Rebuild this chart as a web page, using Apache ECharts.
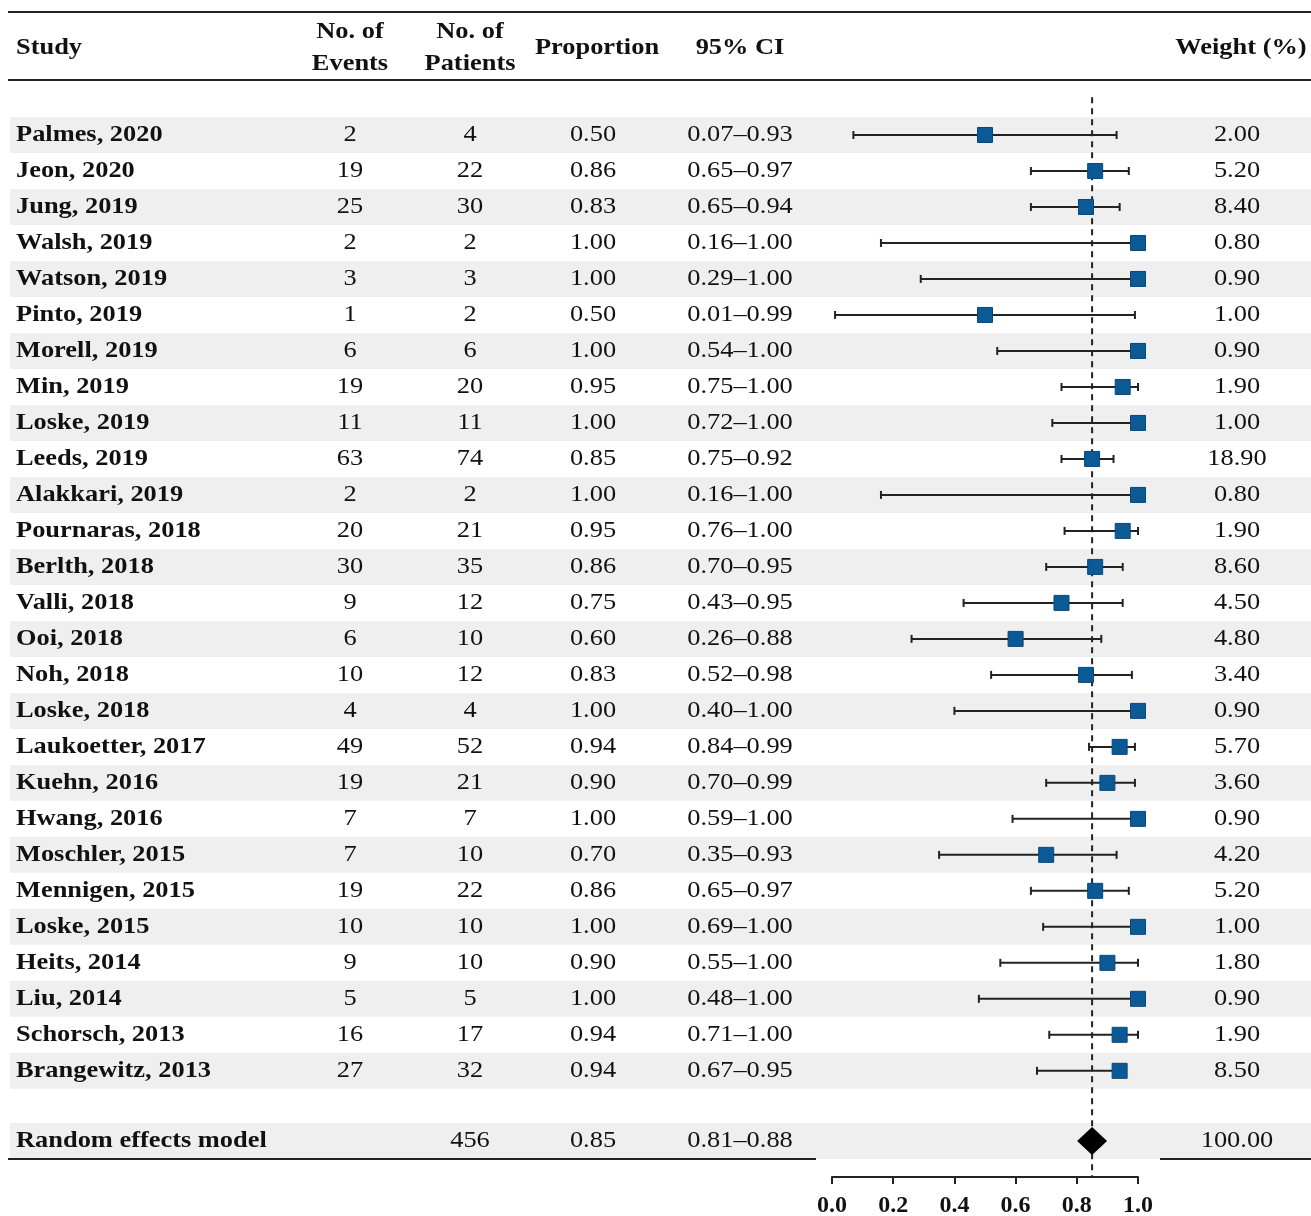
<!DOCTYPE html>
<html><head><meta charset="utf-8">
<script src="https://cdn.jsdelivr.net/npm/echarts@6/dist/echarts.min.js"></script>
<style>html,body{margin:0;padding:0;background:#fff}#main{width:1311px;height:1216px}</style>
</head><body><div id="main"></div>
<script>
const studies = ['Palmes, 2020','Jeon, 2020','Jung, 2019','Walsh, 2019','Watson, 2019','Pinto, 2019','Morell, 2019','Min, 2019','Loske, 2019','Leeds, 2019','Alakkari, 2019','Pournaras, 2018','Berlth, 2018','Valli, 2018','Ooi, 2018','Noh, 2018','Loske, 2018','Laukoetter, 2017','Kuehn, 2016','Hwang, 2016','Moschler, 2015','Mennigen, 2015','Loske, 2015','Heits, 2014','Liu, 2014','Schorsch, 2013','Brangewitz, 2013'];
const events = [2,19,25,2,3,1,6,19,11,63,2,20,30,9,6,10,4,49,19,7,7,19,10,9,5,16,27];
const patients = [4,22,30,2,3,2,6,20,11,74,2,21,35,12,10,12,4,52,21,7,10,22,10,10,5,17,32];
const proportions = [0.50,0.86,0.83,1.00,1.00,0.50,1.00,0.95,1.00,0.85,1.00,0.95,0.86,0.75,0.60,0.83,1.00,0.94,0.90,1.00,0.70,0.86,1.00,0.90,1.00,0.94,0.94];
const ciLower = [0.07,0.65,0.65,0.16,0.29,0.01,0.54,0.75,0.72,0.75,0.16,0.76,0.70,0.43,0.26,0.52,0.40,0.84,0.70,0.59,0.35,0.65,0.69,0.55,0.48,0.71,0.67];
const ciUpper = [0.93,0.97,0.94,1.00,1.00,0.99,1.00,1.00,1.00,0.92,1.00,1.00,0.95,0.95,0.88,0.98,1.00,0.99,0.99,1.00,0.93,0.97,1.00,1.00,1.00,1.00,0.95];
const weights = [2.00,5.20,8.40,0.80,0.90,1.00,0.90,1.90,1.00,18.90,0.80,1.90,8.60,4.50,4.80,3.40,0.90,5.70,3.60,0.90,4.20,5.20,1.00,1.80,0.90,1.90,8.50];
const pooledLabel = 'Random effects model';
const pooledPatients = 456;
const pooledProportion = 0.85;
const pooledLower = 0.81;
const pooledUpper = 0.88;
const pooledWeight = 100;
const xTicks = ['0.0','0.2','0.4','0.6','0.8','1.0'];

const SERIF = '"Liberation Serif","Times New Roman",serif';
const SX = 1.1;
const FS = 24;
const POOLED_ROW = 27.95;
const COL = {study:16, events:350, patients:470, prop:593, ci:740, weight:1237};
const INK = '#111';

function txt(x, y, s, bold, align) {
  return {type:'text', x:x, y:y, scaleX:SX, z2:10,
    style:{text:String(s), fill:INK, fontSize:FS, fontWeight:bold?'bold':'normal', fontFamily:SERIF,
      align:align, verticalAlign:'middle', textAlign:align, textVerticalAlign:'middle'}};
}
function ciText(lo, hi){ return lo.toFixed(2) + '\u2013' + hi.toFixed(2); }

const stripeRows = [];
studies.forEach((s,i)=>{ if(i%2===0) stripeRows.push([0,i]); });
stripeRows.push([0,POOLED_ROW]);

const tableRows = studies.map((s,i)=>[0,i]);
tableRows.push([0,POOLED_ROW]);

const chart = echarts.init(document.getElementById('main'), null, {renderer:'canvas'});
chart.setOption({
  animation:false,
  backgroundColor:'#fff',
  grid:{left:832, width:306, top:81, height:1096, containLabel:false, outerBoundsMode:'none'},
  xAxis:{type:'value', min:0, max:1, interval:0.2,
    axisLine:{show:true, onZero:false, lineStyle:{color:'#222', width:2}},
    axisTick:{show:true, length:7, lineStyle:{color:'#222', width:2}},
    axisLabel:{margin:17, color:INK, fontSize:24, fontWeight:'bold', fontFamily:SERIF,
      formatter:(v)=>xTicks[Math.round(v/0.2)]},
    splitLine:{show:false}},
  yAxis:{type:'value', inverse:true, min:-1.5, max:28.95, show:false},
  graphic:[
    {type:'line', z:100, shape:{x1:8,y1:12,x2:1311,y2:12}, style:{stroke:'#222', lineWidth:2}},
    {type:'line', z:100, shape:{x1:8,y1:80,x2:1311,y2:80}, style:{stroke:'#222', lineWidth:2}},
    {type:'line', z:100, shape:{x1:8,y1:1159,x2:816,y2:1159}, style:{stroke:'#222', lineWidth:2}},
    {type:'line', z:100, shape:{x1:1160,y1:1159,x2:1311,y2:1159}, style:{stroke:'#222', lineWidth:2}},
    Object.assign(txt(COL.study,48,'Study',true,'left'),{z:100}),
    Object.assign(txt(COL.events,32,'No. of',true,'center'),{z:100}),
    Object.assign(txt(COL.events,64,'Events',true,'center'),{z:100}),
    Object.assign(txt(COL.patients,32,'No. of',true,'center'),{z:100}),
    Object.assign(txt(COL.patients,64,'Patients',true,'center'),{z:100}),
    Object.assign(txt(597,48,'Proportion',true,'center'),{z:100}),
    Object.assign(txt(740,48,'95% CI',true,'center'),{z:100}),
    Object.assign(txt(1241,48,'Weight (%)',true,'center'),{z:100})
  ],
  series:[
    {type:'custom', name:'stripes', z:0, clip:false, silent:true, data:stripeRows,
      renderItem:(params, api)=>{
        const c = api.coord([0, api.value(1)]);
        const h = api.size([0,1])[1];
        return {type:'rect', shape:{x:10, y:c[1]-h/2, width:1301, height:h}, style:{fill:'#efefef'}};
      }},
    {type:'custom', name:'table', z:5, clip:false, silent:true, data:tableRows,
      renderItem:(params, api)=>{
        const i = params.dataIndex;
        const y = api.coord([0, api.value(1)])[1];
        if (i < studies.length) {
          return {type:'group', children:[
            txt(COL.study, y, studies[i], true, 'left'),
            txt(COL.events, y, events[i], false, 'center'),
            txt(COL.patients, y, patients[i], false, 'center'),
            txt(COL.prop, y, proportions[i].toFixed(2), false, 'center'),
            txt(COL.ci, y, ciText(ciLower[i], ciUpper[i]), false, 'center'),
            txt(COL.weight, y, weights[i].toFixed(2), false, 'center')
          ]};
        }
        return {type:'group', children:[
          txt(COL.study, y, pooledLabel, true, 'left'),
          txt(COL.patients, y, pooledPatients, false, 'center'),
          txt(COL.prop, y, pooledProportion.toFixed(2), false, 'center'),
          txt(COL.ci, y, ciText(pooledLower, pooledUpper), false, 'center'),
          txt(COL.weight, y, pooledWeight.toFixed(2), false, 'center')
        ]};
      }},
    {type:'line', name:'pooled', z:6, symbol:'none', silent:true,
      data:[[pooledProportion,-1.05],[pooledProportion,28.95]],
      lineStyle:{color:'#222', width:2, type:[6,5]}},
    {type:'custom', name:'ci', z:7, clip:false, silent:true,
      data:studies.map((s,i)=>[ciLower[i], ciUpper[i], i]),
      renderItem:(params, api)=>{
        const a = api.coord([api.value(0), api.value(2)]);
        const b = api.coord([api.value(1), api.value(2)]);
        const st = {stroke:'#222', lineWidth:2};
        return {type:'group', children:[
          {type:'line', shape:{x1:a[0],y1:a[1],x2:b[0],y2:b[1]}, style:st},
          {type:'line', shape:{x1:a[0],y1:a[1]-4,x2:a[0],y2:a[1]+4}, style:st},
          {type:'line', shape:{x1:b[0],y1:b[1]-4,x2:b[0],y2:b[1]+4}, style:st}
        ]};
      }},
    {type:'scatter', name:'studies', z:8, silent:true, symbol:'rect', symbolSize:15,
      data:studies.map((s,i)=>[proportions[i], i]),
      itemStyle:{color:'#0b5a96', borderColor:'#08477a', borderWidth:1, opacity:1}},
    {type:'scatter', name:'summary', z:8, silent:true, symbol:'diamond', symbolSize:[30,28],
      data:[[pooledProportion, POOLED_ROW]],
      itemStyle:{color:'#000', opacity:1}}
  ]
});
</script>
</body></html>
